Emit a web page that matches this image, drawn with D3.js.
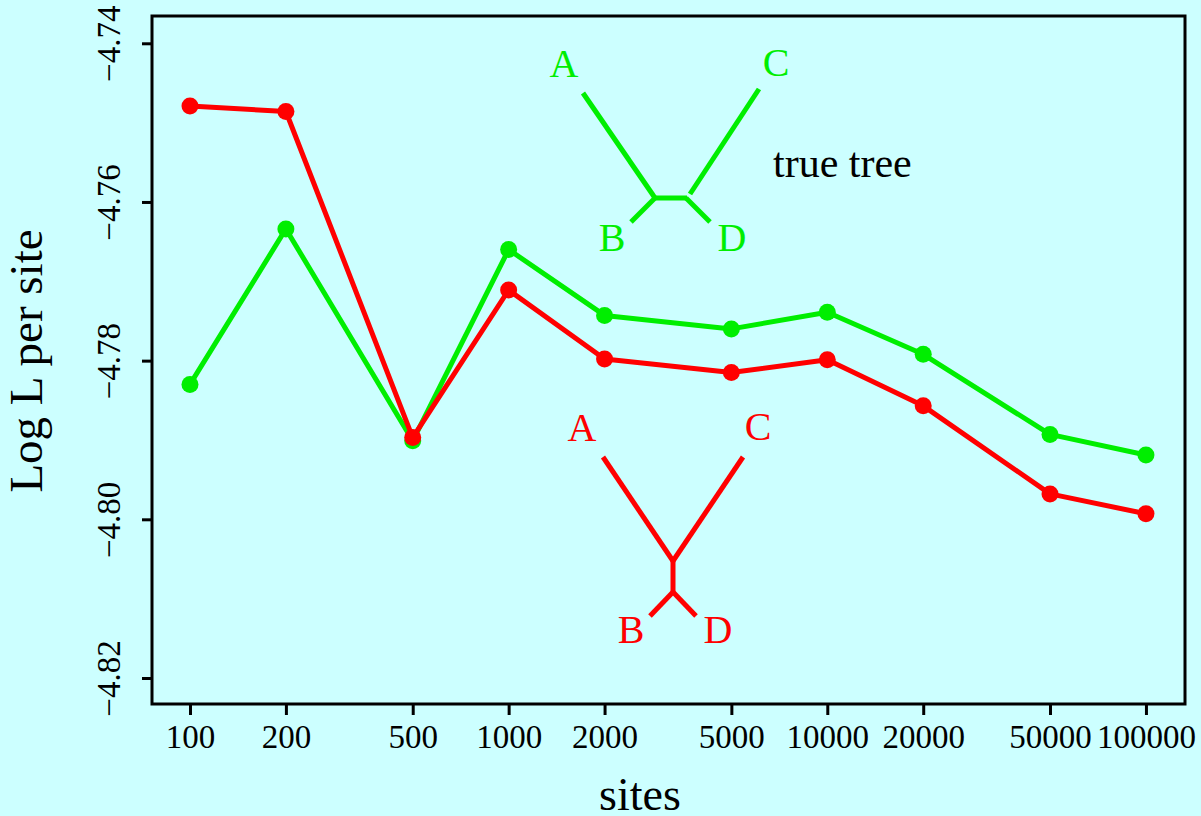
<!DOCTYPE html>
<html>
<head>
<meta charset="utf-8">
<script src="https://cdn.jsdelivr.net/npm/d3@7"></script>
<style>
  body { margin: 0; background: #ccffff; }
  svg text { font-family: "Liberation Serif", "Times New Roman", serif; }
</style>
</head>
<body>
<div id="container"></div>
<script>
const sites = [100, 200, 500, 1000, 2000, 5000, 10000, 20000, 50000, 100000];
const redLogL = [-4.7479, -4.7486, -4.7897, -4.7711, -4.7798, -4.7815, -4.7799, -4.7857, -4.7968, -4.7993];
const greenLogL = [-4.7830, -4.7634, -4.7901, -4.7660, -4.7743, -4.7760, -4.7739, -4.7792, -4.7893, -4.7919];
const yTicks = [-4.74, -4.76, -4.78, -4.80, -4.82];
const xTicks = [100, 200, 500, 1000, 2000, 5000, 10000, 20000, 50000, 100000];

const W = 1201, H = 816;
const plotLeft = 152, plotRight = 1185, plotTop = 16, plotBottom = 704;
const green = '#00ee00', red = '#ff0000';

const svg = d3.select('#container')
    .append('svg')
    .attr('width', W)
    .attr('height', H)
    .style('display', 'block');

svg.append('rect').attr('width', W).attr('height', H).attr('fill', '#ccffff');

var xScale = d3.scaleLog()
    .domain([76.0, 132600])
    .range([plotLeft, plotRight]);

var yScale = d3.scaleLinear()
    .domain([-4.82328, -4.73656])
    .range([plotBottom, plotTop]);

// axes
var xAxis = d3.axisBottom(xScale)
    .tickValues(xTicks)
    .tickFormat(d3.format('d'))
    .tickSize(11)
    .tickPadding(10);

var yAxis = d3.axisLeft(yScale)
    .tickValues(yTicks)
    .tickFormat(d => d3.format('.2f')(d).replace('-', '\u2212'))
    .tickSize(10);

var gx = svg.append('g')
    .attr('transform', 'translate(0,' + plotBottom + ')')
    .call(xAxis);
gx.select('.domain').remove();
gx.selectAll('line').attr('stroke', '#000').attr('stroke-width', 3);
gx.selectAll('text')
    .attr('fill', '#000')
    .style('font-size', '33px')
    .attr('dy', '0.71em');

var gy = svg.append('g')
    .attr('transform', 'translate(' + plotLeft + ',0)')
    .call(yAxis);
gy.select('.domain').remove();
gy.selectAll('line').attr('stroke', '#000').attr('stroke-width', 3);
gy.selectAll('text')
    .attr('fill', '#000')
    .style('font-size', '33px')
    .attr('x', null)
    .attr('dy', null)
    .attr('transform', 'translate(-32,0) rotate(-90)')
    .style('text-anchor', 'middle');

// frame
svg.append('rect')
    .attr('x', plotLeft)
    .attr('y', plotTop)
    .attr('width', plotRight - plotLeft)
    .attr('height', plotBottom - plotTop)
    .attr('fill', 'none')
    .attr('stroke', '#000')
    .attr('stroke-width', 3);

// axis titles
svg.append('text')
    .attr('x', 640)
    .attr('y', 810)
    .style('text-anchor', 'middle')
    .style('font-size', '46px')
    .text('sites');

svg.append('text')
    .attr('transform', 'translate(42,361) rotate(-90)')
    .style('text-anchor', 'middle')
    .style('font-size', '47px')
    .text('Log L per site');

// series
var line = d3.line()
    .x(d => xScale(d[0]))
    .y(d => yScale(d[1]));

function drawSeries(values, color) {
    var pts = sites.map((s, i) => [s, values[i]]);
    svg.append('path')
        .datum(pts)
        .attr('d', line)
        .attr('fill', 'none')
        .attr('stroke', color)
        .attr('stroke-width', 5)
        .attr('stroke-linejoin', 'round');
    svg.selectAll(null)
        .data(pts)
        .enter()
        .append('circle')
        .attr('cx', d => xScale(d[0]))
        .attr('cy', d => yScale(d[1]))
        .attr('r', 8.5)
        .attr('fill', color);
}
drawSeries(greenLogL, green);
drawSeries(redLogL, red);

// tree sketches (annotation, pixel positions)
function drawTree(segs, labels, color) {
    var g = svg.append('g');
    g.selectAll('line')
        .data(segs)
        .enter()
        .append('line')
        .attr('x1', d => d[0]).attr('y1', d => d[1])
        .attr('x2', d => d[2]).attr('y2', d => d[3])
        .attr('stroke', color)
        .attr('stroke-width', 5);
    g.selectAll('text')
        .data(labels)
        .enter()
        .append('text')
        .attr('x', d => d[1])
        .attr('y', d => d[2])
        .style('text-anchor', 'middle')
        .style('font-size', '40px')
        .attr('fill', color)
        .text(d => d[0]);
}

drawTree(
    [[583, 93, 655, 198], [653, 198, 687, 198], [759, 89, 690, 194], [655, 198, 631, 222], [686, 198, 710, 222]],
    [['A', 564, 77], ['C', 776, 76], ['B', 612, 251], ['D', 732, 251]],
    green);

svg.append('text')
    .attr('x', 773)
    .attr('y', 177)
    .style('font-size', '42px')
    .text('true tree');

drawTree(
    [[603, 457, 673, 561], [743, 457, 673, 561], [673, 559, 673, 593], [673, 592, 650, 616], [673, 592, 696, 616]],
    [['A', 582, 441], ['C', 758, 440], ['B', 631, 643], ['D', 718, 643]],
    red);
</script>
</body>
</html>
